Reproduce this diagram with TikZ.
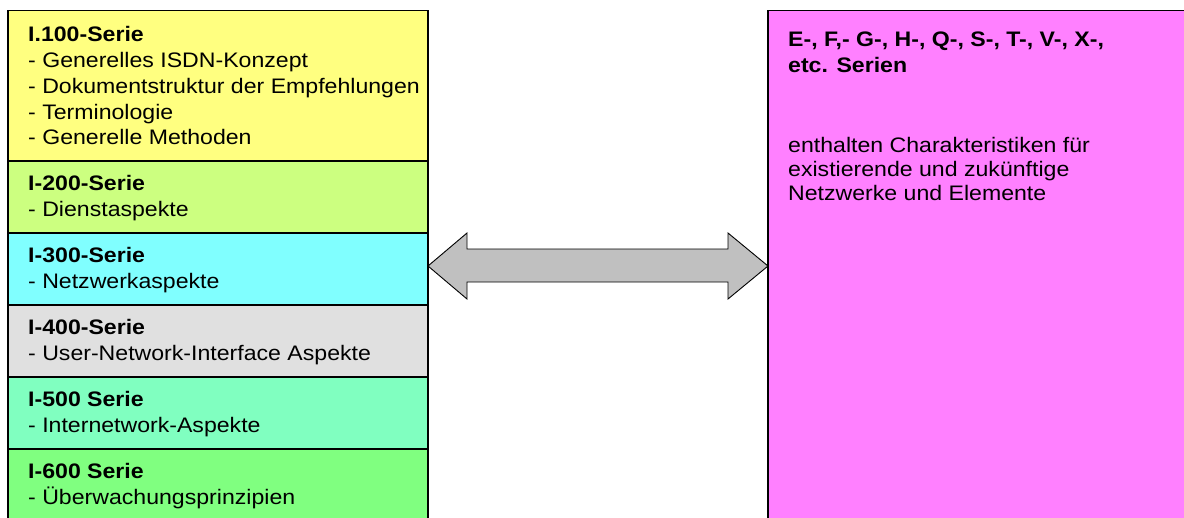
\documentclass[tikz,border=0pt]{standalone}
\usepackage{fontspec}
\setmainfont[FakeStretch=1.1]{Liberation Sans}
\definecolor{cyel}{HTML}{FFFF80}
\definecolor{cgy}{HTML}{CCFF80}
\definecolor{ccy}{HTML}{80FFFF}
\definecolor{cgr}{HTML}{E0E0E0}
\definecolor{cmi}{HTML}{80FFC0}
\definecolor{cgn}{HTML}{80FF80}
\definecolor{cmg}{HTML}{FF80FF}
\definecolor{carr}{HTML}{C0C0C0}
\tikzset{
  box/.style={draw=black, line width=1.3pt},
  txt/.style={anchor=base west, inner sep=0pt, font=\fontsize{21}{25.8}\selectfont},
  txtr/.style={anchor=base west, inner sep=0pt, font=\fontsize{21}{24}\selectfont},
  txtb/.style={anchor=base west, inner sep=0pt, font=\fontsize{21}{26}\selectfont\bfseries},
}
\begin{document}
\begin{tikzpicture}[x=1pt,y=-1pt]
\useasboundingbox (0,0) rectangle (1184,517);
% left column boxes
\path[box, fill=cyel] (8,10.5) rectangle (428,161);
\path[box, fill=cgy] (8,161) rectangle (428,233);
\path[box, fill=ccy] (8,233) rectangle (428,305);
\path[box, fill=cgr] (8,305) rectangle (428,377);
\path[box, fill=cmi] (8,377) rectangle (428,449);
\path[box, fill=cgn] (8,449) rectangle (428,540);
% right box
\path[box, fill=cmg] (768,10.5) rectangle (1200,540);
% texts
\node[txt] (t1) at (28,41.7) {\begin{tabular}[t]{@{}l@{}}\textbf{I.100-Serie}\\- Generelles ISDN-Konzept\\- Dokumentstruktur der Empfehlungen\\- Terminologie\\- Generelle Methoden\end{tabular}};
\node[txt] (t2) at (28,190.5) {\begin{tabular}[t]{@{}l@{}}\textbf{I-200-Serie}\\- Dienstaspekte\end{tabular}};
\node[txt] (t3) at (28,262.5) {\begin{tabular}[t]{@{}l@{}}\textbf{I-300-Serie}\\- Netzwerkaspekte\end{tabular}};
\node[txt] (t4) at (28,334.5) {\begin{tabular}[t]{@{}l@{}}\textbf{I-400-Serie}\\- User-Network-Interface Aspekte\end{tabular}};
\node[txt] (t5) at (28,406.5) {\begin{tabular}[t]{@{}l@{}}\textbf{I-500 Serie}\\- Internetwork-Aspekte\end{tabular}};
\node[txt] (t6) at (28,478.5) {\begin{tabular}[t]{@{}l@{}}\textbf{I-600 Serie}\\- Überwachungsprinzipien\end{tabular}};
\node[txtb] (r1) at (788,46.7) {\begin{tabular}[t]{@{}l@{}}E-, F,- G-, H-, Q-, S-, T-, V-, X-,\\etc. Serien\end{tabular}};
\node[txtr] (r2) at (788,152.7) {\begin{tabular}[t]{@{}l@{}}enthalten Charakteristiken für\\existierende und zukünftige\\Netzwerke und Elemente\end{tabular}};
% double arrow
\coordinate (aL) at (428,266);
\coordinate (aR) at (768,266);
\draw[fill=carr, draw=black, line width=0.9pt, line join=miter]
  (aL) -- ++(39,-33) -- ++(0,16) -- ++(261,0) -- ++(0,-16) -- (aR)
  -- ++(-40,33) -- ++(0,-17) -- ++(-261,0) -- ++(0,17) -- cycle;
\end{tikzpicture}
\end{document}
